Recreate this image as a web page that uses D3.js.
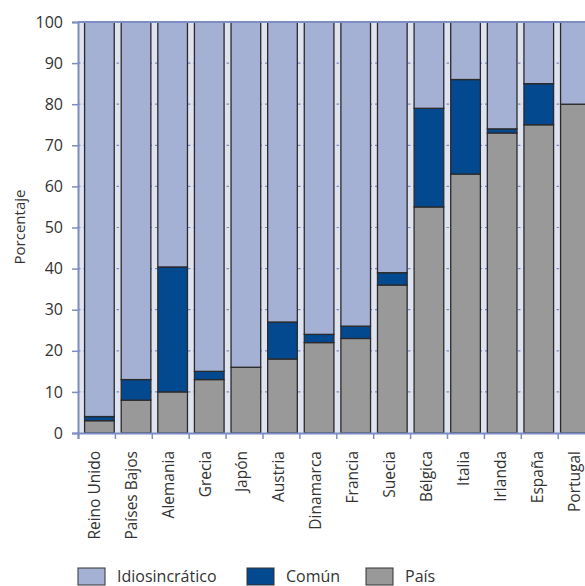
<!DOCTYPE html>
<html>
<head>
<meta charset="utf-8">
<script src="https://cdn.jsdelivr.net/npm/d3@7"></script>
<style>
  body { margin: 0; background: #fff; }
  text { font-family: "Open Sans", "Noto Sans", sans-serif; fill: #333; }
</style>
</head>
<body>
<div id="chart"></div>
<script>
// data
const categories = ["Reino Unido", "Países Bajos", "Alemania", "Grecia", "Japón", "Austria",
  "Dinamarca", "Francia", "Suecia", "Bélgica", "Italia", "Irlanda", "España", "Portugal"];
const pais   = [3, 8, 10, 13, 16, 18, 22, 23, 36, 55, 63, 73, 75, 80];
const comun  = [1, 5, 30.4, 2, 0, 9, 2, 3, 3, 24, 23, 1, 10, 0];
const idio   = [96, 87, 59.6, 85, 84, 73, 76, 74, 61, 21, 14, 26, 15, 20];
const yTicks = [0, 10, 20, 30, 40, 50, 60, 70, 80, 90, 100];

const keys = ["pais", "comun", "idio"];
const names = {idio: "Idiosincrático", comun: "Común", pais: "País"};
const colors = {idio: "#a4b1d4", comun: "#03498f", pais: "#999999"};

const W = 585, H = 586;
const plotLeft = 78, plotTop = 22, plotBottom = 433;
const axisColor = "#7d8dc3";

const svg = d3.select("#chart").append("svg")
  .attr("width", W).attr("height", H);

const table = categories.map((c, i) => ({cat: c, pais: pais[i], comun: comun[i], idio: idio[i]}));
const series = d3.stack().keys(keys)(table);

const y = d3.scaleLinear().domain([0, 100]).range([plotBottom, plotTop]);
// band boundaries (tick marks) and bars
const xb = d3.scaleLinear().domain([0, categories.length]).range([plotLeft, plotLeft + categories.length * 36.9]);
const x = d3.scaleBand().domain(categories).range([plotLeft, 596.8])
  .paddingInner(0.19).paddingOuter(0.18);

// plot background (light gaps between bars)
svg.append("rect")
  .attr("x", plotLeft).attr("y", plotTop)
  .attr("width", W - plotLeft).attr("height", plotBottom - plotTop)
  .attr("fill", "#dfe3ef");

// gridlines
svg.append("g")
  .selectAll("line")
  .data(yTicks.slice(1, -1))
  .join("line")
    .attr("x1", plotLeft).attr("x2", W)
    .attr("y1", d => y(d)).attr("y2", d => y(d))
    .attr("stroke", axisColor)
    .attr("stroke-width", 1.2)
    .attr("stroke-dasharray", "2.5,3");

// bars
svg.append("g")
  .selectAll("g")
  .data(series)
  .join("g")
    .attr("fill", d => colors[d.key])
  .selectAll("rect")
  .data(d => d.filter(p => p[1] - p[0] > 0))
  .join("rect")
    .attr("x", d => x(d.data.cat))
    .attr("width", x.bandwidth())
    .attr("y", d => y(d[1]))
    .attr("height", d => y(d[0]) - y(d[1]))
    .attr("stroke", "#2a2a2a")
    .attr("stroke-width", 1.3);

// y axis
const yAxis = svg.append("g")
  .attr("transform", `translate(${plotLeft},0)`)
  .call(d3.axisLeft(y).tickValues(yTicks).tickSize(6).tickPadding(9));
yAxis.select(".domain").attr("stroke", axisColor).attr("stroke-width", 2);
yAxis.selectAll(".tick line").attr("stroke", axisColor).attr("stroke-width", 1.5);
yAxis.selectAll(".tick text").style("font-size", "16px").attr("fill", "#333");

// frame top
svg.append("line")
  .attr("x1", plotLeft).attr("x2", W)
  .attr("y1", plotTop).attr("y2", plotTop)
  .attr("stroke", axisColor).attr("stroke-width", 2);

// x axis: ticks on band boundaries
const xAxis = svg.append("g")
  .attr("transform", `translate(0,${plotBottom})`)
  .call(d3.axisBottom(xb).tickValues(d3.range(0, categories.length + 1)).tickSize(6).tickFormat(""));
xAxis.select(".domain").attr("stroke", axisColor).attr("stroke-width", 2);
xAxis.selectAll(".tick line").attr("stroke", axisColor).attr("stroke-width", 1.5);

// category labels
svg.append("g")
  .selectAll("text")
  .data(categories)
  .join("text")
    .attr("transform", (d, i) => `translate(${xb(i + 0.5) - 2},451) rotate(-90)`)
    .attr("dy", "0.35em")
    .attr("text-anchor", "end")
    .style("font-size", "15.5px")
    .text(d => d);

// y title
svg.append("text")
  .attr("transform", `translate(20,227) rotate(-90)`)
  .attr("text-anchor", "middle")
  .attr("dy", "0.35em")
  .style("font-size", "15px")
  .text("Porcentaje");

// legend
const legendX = [78, 247, 366];
const legend = svg.append("g")
  .selectAll("g")
  .data(["idio", "comun", "pais"])
  .join("g")
    .attr("transform", (d, i) => `translate(${legendX[i]},568)`);
legend.append("rect")
  .attr("width", 27).attr("height", 17)
  .attr("fill", d => colors[d])
  .attr("stroke", "#333").attr("stroke-width", 1);
legend.append("text")
  .attr("x", 39).attr("y", 14)
  .style("font-size", "16px")
  .text(d => names[d]);
</script>
</body>
</html>
